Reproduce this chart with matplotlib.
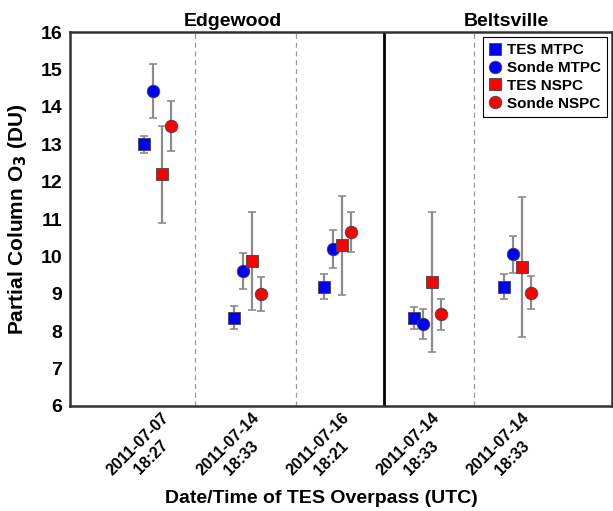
import matplotlib
matplotlib.use("Agg")
import matplotlib.pyplot as plt
import matplotlib.transforms as mtransforms

plt.rcParams['font.family'] = ['Liberation Sans', 'DejaVu Sans']
plt.rcParams['font.weight'] = 'bold'

# overpass labels (x ticks)
overpasses = ["2011-07-07\n18:27", "2011-07-14\n18:33", "2011-07-16\n18:21",
              "2011-07-14\n18:33", "2011-07-14\n18:33"]
xpos = [1, 2, 3, 4, 5]

tes_mtpc = [13.0, 8.36, 9.19, 8.36, 9.19]
tes_mtpc_err = [0.23, 0.31, 0.33, 0.30, 0.33]
sonde_mtpc = [14.42, 9.61, 10.20, 8.19, 10.06]
sonde_mtpc_err = [0.72, 0.47, 0.50, 0.41, 0.50]
tes_nspc = [12.20, 9.88, 10.30, 9.32, 9.71]
tes_nspc_err = [1.30, 1.32, 1.32, 1.87, 1.87]
sonde_nspc = [13.49, 8.99, 10.66, 8.45, 9.03]
sonde_nspc_err = [0.66, 0.45, 0.53, 0.42, 0.44]

dividers_dashed = [1.42, 2.54, 4.51]
divider_site = 3.51

fig = plt.figure(figsize=(6.13, 5.11), dpi=100)
ax = fig.add_axes([0.115, 0.2055, 0.883, 0.7315])

series = [
    (tes_mtpc, tes_mtpc_err, -0.15, 's', 'blue', 'TES MTPC'),
    (sonde_mtpc, sonde_mtpc_err, -0.05, 'o', 'blue', 'Sonde MTPC'),
    (tes_nspc, tes_nspc_err, 0.05, 's', 'red', 'TES NSPC'),
    (sonde_nspc, sonde_nspc_err, 0.15, 'o', 'red', 'Sonde NSPC'),
]
for vals, errs, off, mk, col, lab in series:
    x = [p + off for p in xpos]
    ax.errorbar(x, vals, yerr=errs, fmt='none', ecolor='#8c8c8c',
                elinewidth=1.6, capsize=3, capthick=1.2, zorder=2)
    ax.plot(x, vals, linestyle='none', marker=mk, markersize=9,
            markerfacecolor=col, markeredgecolor='#444444',
            markeredgewidth=0.6, label=lab, zorder=3)

for d in dividers_dashed:
    ax.axvline(d, color='#999999', linestyle=(0, (4, 3)), linewidth=0.9, zorder=1)
ax.axvline(divider_site, color='black', linewidth=2, zorder=1)

ax.set_xlim(0.04, 6.04)
ax.set_ylim(6, 16)
ax.set_yticks(range(6, 17))
ax.set_xticks(xpos)
ax.tick_params(axis='both', length=0)
ax.tick_params(axis='y', pad=6, labelsize=14)
ax.tick_params(axis='x', pad=3)
ax.set_xticklabels(overpasses, rotation=45, rotation_mode='anchor',
                   ha='right', va='top', fontsize=11.5, linespacing=1.35,
                   fontweight='bold', multialignment='center')
# nudge the rotated labels a few pixels to the right, as in the original
shift = mtransforms.ScaledTranslation(0.04, 0, fig.dpi_scale_trans)
for t in ax.get_xticklabels():
    t.set_transform(t.get_transform() + shift)
for t in ax.get_yticklabels():
    t.set_fontweight('bold')
for s in ax.spines.values():
    s.set_linewidth(1.8)
    s.set_color('#333333')

ax.set_ylabel('Partial Column O$_\\mathbf{3}$ (DU)', fontsize=15,
              fontweight='bold')
ax.yaxis.set_label_coords(-0.077, 0.5)
ax.set_xlabel('Date/Time of TES Overpass (UTC)', fontsize=14,
              fontweight='bold')
ax.xaxis.set_label_coords(0.4626, -0.225)

ax.text(0.30, 1.005, 'Edgewood', transform=ax.transAxes, ha='center',
        va='bottom', fontsize=14, fontweight='bold')
ax.text(0.806, 1.005, 'Beltsville', transform=ax.transAxes, ha='center',
        va='bottom', fontsize=14, fontweight='bold')

leg = ax.legend(loc='upper right', bbox_to_anchor=(0.992, 0.987),
                fancybox=False, edgecolor='black', framealpha=1,
                prop={'weight': 'bold', 'size': 11}, handlelength=0.8,
                handletextpad=0.4, borderpad=0.4, labelspacing=0.25,
                borderaxespad=0)
leg.get_frame().set_linewidth(0.8)

fig.savefig('out.png', dpi=100)
